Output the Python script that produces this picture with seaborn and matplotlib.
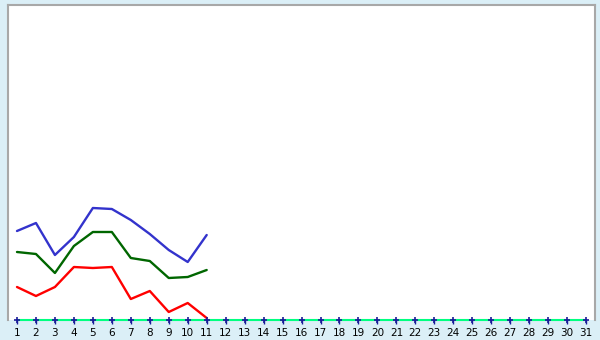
import matplotlib
matplotlib.use("Agg")
import matplotlib.pyplot as plt
import seaborn as sns
import pandas as pd
import numpy as np

days = list(range(1, 32))
blue_vals = [89, 97, 65, 83, 112, 111, 100, 86, 70, 58, 85]
green_vals = [68, 66, 47, 74, 88, 88, 62, 59, 42, 43, 50]
red_vals = [33, 24, 33, 53, 52, 53, 21, 29, 8, 17, 2]
zero_vals = [0] * 31

sns.set_theme(style="white")
plt.rcParams['font.family'] = ['DejaVu Sans']

fig = plt.figure(figsize=(6, 3.4), dpi=100, facecolor="#dbeff7")
ax = fig.add_axes([8/600, 20/340, 587/600, 315/340])
ax.set_facecolor("white")

n = len(blue_vals)
df = pd.DataFrame({"day": days[:n], "blue": blue_vals, "green": green_vals, "red": red_vals})
sns.lineplot(x="day", y="blue", data=df, ax=ax, color="#3333cc", linewidth=1.7)
sns.lineplot(x="day", y="green", data=df, ax=ax, color="#006600", linewidth=1.7)
sns.lineplot(x="day", y="red", data=df, ax=ax, color="#ff0000", linewidth=1.7)
dz = pd.DataFrame({"day": days, "zero": zero_vals})
sns.lineplot(x="day", y="zero", data=dz, ax=ax, color="#00ff80", linewidth=1.5,
             marker="+", markersize=4, markeredgecolor="#1a1a99", markeredgewidth=1.2,
             clip_on=False, zorder=5)

ax.set_xlim(0.526, 31.47)
ax.set_ylim(0, 315)
ax.set_xticks(days)
ax.set_xticklabels([str(d) for d in days], fontsize=7.5, color="black")
ax.set_yticks([])
ax.tick_params(axis="x", length=3, width=1, color="#1a1a99", pad=2.5, direction="out", bottom=True)
ax.set_xlabel("")
ax.set_ylabel("")
for s in ax.spines.values():
    s.set_color("#a8a8a8")
    s.set_linewidth(1.5)
ax.spines["bottom"].set_visible(False)

fig.savefig("out.png", dpi=100, facecolor=fig.get_facecolor())
